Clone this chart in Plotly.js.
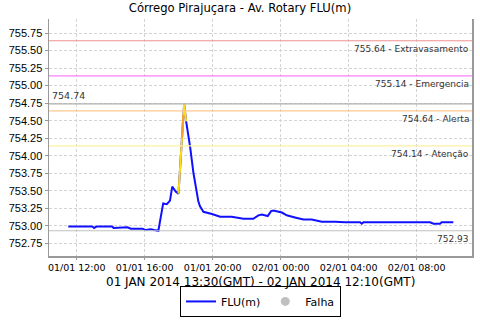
<!DOCTYPE html>
<html><head><meta charset="utf-8">
<script src="https://cdn.plot.ly/plotly-3.0.1.min.js"></script>
<style>html,body{margin:0;padding:0;background:#fff}#chart{width:480px;height:320px}</style>
</head><body><div id="chart"></div>
<script>
const times = ['2014-01-01 11:30','2014-01-01 12:00','2014-01-01 12:30','2014-01-01 12:55','2014-01-01 13:01','2014-01-01 13:10','2014-01-01 13:40','2014-01-01 14:05','2014-01-01 14:10','2014-01-01 14:35','2014-01-01 14:59','2014-01-01 15:11','2014-01-01 15:30','2014-01-01 15:52','2014-01-01 16:04','2014-01-01 16:21','2014-01-01 16:33','2014-01-01 16:44','2014-01-01 16:48','2014-01-01 17:05','2014-01-01 17:18','2014-01-01 17:29','2014-01-01 17:37','2014-01-01 17:49','2014-01-01 17:59','2014-01-01 18:19','2014-01-01 18:26','2014-01-01 18:40','2014-01-01 18:52','2014-01-01 19:04','2014-01-01 19:09','2014-01-01 19:15','2014-01-01 19:27','2014-01-01 19:57','2014-01-01 20:26','2014-01-01 21:07','2014-01-01 21:48','2014-01-01 22:23','2014-01-01 22:41','2014-01-01 22:53','2014-01-01 23:14','2014-01-01 23:26','2014-01-01 23:34','2014-01-02 00:04','2014-01-02 00:21','2014-01-02 00:50','2014-01-02 01:20','2014-01-02 01:49','2014-01-02 02:25','2014-01-02 03:11','2014-01-02 03:47','2014-01-02 04:40','2014-01-02 04:46','2014-01-02 04:52','2014-01-02 08:47','2014-01-02 08:59','2014-01-02 09:22','2014-01-02 09:28','2014-01-02 10:09'];
const flu = [752.99,752.99,752.99,752.99,752.97,752.99,752.99,752.99,752.97,752.97,752.98,752.96,752.96,752.96,752.94,752.95,752.94,752.93,752.93,753.32,753.31,753.36,753.56,753.49,753.46,754.74,754.49,754.13,753.75,753.47,753.35,753.28,753.20,753.17,753.13,753.13,753.10,753.10,753.15,753.16,753.14,753.21,753.22,753.19,753.15,753.12,753.09,753.09,753.06,753.06,753.05,753.05,753.03,753.05,753.05,753.03,753.03,753.05,753.05];
// peak section drawn in warning colours
const attTimes = ['2014-01-01 17:59','2014-01-01 18:19','2014-01-01 18:26'];
const attValues = [753.46,754.74,754.49];
const alertTimes = ['2014-01-01 18:11','2014-01-01 18:16'];
const alertValues = [754.25,754.58];
// reference levels
const levelValues = [755.64,755.14,754.64,754.14];
const levelNames = ['Extravasamento','Emergencia','Alerta','Atenção'];
const levelColors = ['#f09090','#ff80ff','#ffc890','#fff0a0'];
const maxValue = 754.74;
const minValue = 752.93;
const yTicks = [752.75,753.00,753.25,753.50,753.75,754.00,754.25,754.50,754.75,755.00,755.25,755.50,755.75];
const xRange = ['2014-01-01 10:22','2014-01-02 11:15'];
const xTitle = '01 JAN 2014 13:30(GMT) - 02 JAN 2014 12:10(GMT)';

const F = 'DejaVu Sans, sans-serif';
const traces = [
  {x: times, y: flu, type:'scatter', mode:'lines', name:'FLU(m)', line:{color:'#1010ff', width:2}},
  {x: attTimes, y: attValues, type:'scatter', mode:'lines', showlegend:false, line:{color:'#ffdd11', width:2}},
  {x: alertTimes, y: alertValues, type:'scatter', mode:'lines', showlegend:false, line:{color:'#f5a030', width:2}},
  {x: [null], y: [null], type:'scatter', mode:'markers', name:'Falha', marker:{color:'#c0c0c0', size:9}}
];
const shapes = [];
const annotations = [];
levelValues.forEach((v,i)=>{
  shapes.push({type:'line', xref:'paper', x0:0, x1:1, y0:v, y1:v, line:{color:levelColors[i], width:1.2}});
  annotations.push({xref:'paper', x:0.997, y:v, yshift:-8, xanchor:'right', yanchor:'middle', showarrow:false,
    text: v.toFixed(2)+' - '+levelNames[i], font:{family:F, size:9, color:'#333'}});
});
shapes.push({type:'line', xref:'paper', x0:0, x1:1, y0:maxValue, y1:maxValue, line:{color:'#b0b0b0', width:1.2}});
shapes.push({type:'line', xref:'paper', x0:0, x1:1, y0:minValue, y1:minValue, line:{color:'#c0c0c0', width:1.2}});
annotations.push({xref:'paper', x:0.003, y:maxValue, yshift:8, xanchor:'left', yanchor:'middle', showarrow:false,
  text: maxValue.toFixed(2), font:{family:F, size:9.5, color:'#333'}});
annotations.push({xref:'paper', x:0.997, y:minValue, yshift:-8, xanchor:'right', yanchor:'middle', showarrow:false,
  text: minValue.toFixed(2), font:{family:F, size:9, color:'#333'}});
annotations.push({xref:'paper', yref:'paper', x:0.5, y:0, yshift:-26, xanchor:'center', yanchor:'middle', showarrow:false,
  text: xTitle, font:{family:F, size:12, color:'#000'}});

const layout = {
  width:480, height:320,
  margin:{l:49, r:8, t:19, b:64, autoexpand:false},
  paper_bgcolor:'#fff', plot_bgcolor:'#fff',
  title:{text:'Córrego Pirajuçara - Av. Rotary FLU(m)', font:{family:F, size:11.6, color:'#000'}, x:0.5, xanchor:'center', y:0.975, yanchor:'middle', automargin:false},
  xaxis:{type:'date', range:xRange, dtick:4*3600*1000, tick0:'2014-01-01 00:00', tickformat:'%d/%m %H:%M',
    showgrid:true, gridcolor:'#d4d4d4', griddash:'3px,2px', gridwidth:1, automargin:false,
    showline:true, linecolor:'#999', linewidth:1.5, ticks:'outside', ticklen:2, tickcolor:'#999',
    tickfont:{family:F, size:9.5, color:'#000'}, zeroline:false},
  yaxis:{range:[752.57,755.95], tickvals:yTicks, ticktext:yTicks.map(v=>v.toFixed(2)), automargin:false,
    showgrid:true, gridcolor:'#d4d4d4', griddash:'3px,2px', gridwidth:1,
    showline:true, mirror:true, linecolor:'#999', linewidth:1.5, ticks:'outside', ticklen:3, tickcolor:'#999',
    tickfont:{family:'Liberation Sans, sans-serif', size:11, color:'#000'}, zeroline:false},
  showlegend:true,
  legend:{orientation:'h', x:0.5, xanchor:'center', yref:'container', y:0.058, yanchor:'middle', bordercolor:'#000', borderwidth:1,
    font:{family:F, size:11, color:'#000'}, itemwidth:30, tracegroupgap:0},
  shapes: shapes, annotations: annotations
};
Plotly.newPlot('chart', traces, layout, {displayModeBar:false, staticPlot:true});
</script></body></html>
